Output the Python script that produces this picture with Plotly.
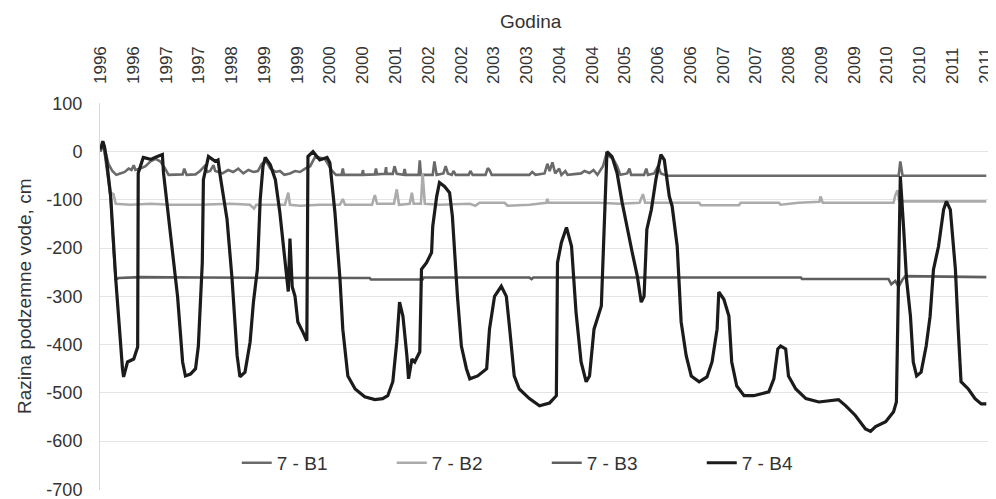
import plotly.graph_objects as go

# ---------------- data ----------------
tick_labels = ["1996", "1996", "1997", "1997", "1998", "1999", "1999", "2000", "2000",
               "2001", "2002", "2002", "2003", "2003", "2004", "2004", "2005", "2006",
               "2006", "2007", "2007", "2008", "2009", "2009", "2010", "2010", "2011", "2011"]
TICK_START = 1996.18
TICK_STEP = 0.583

y_ticks = [100, 0, -100, -200, -300, -400, -500, -600, -700]

series_names = ["7 - B1", "7 - B2", "7 - B3", "7 - B4"]

b1_year = [1996.18, 1996.20, 1996.23, 1996.27, 1996.32, 1996.39, 1996.46, 1996.53, 1996.61,
           1996.68, 1996.73, 1996.77, 1996.80, 1996.89, 1996.98, 1997.07, 1997.16, 1997.24,
           1997.33, 1997.39, 1997.56, 1997.64, 1997.67, 1997.71, 1997.87, 1997.95, 1998.03,
           1998.08, 1998.13, 1998.19, 1998.22, 1998.35, 1998.45, 1998.54, 1998.63, 1998.72,
           1998.81, 1998.90, 1998.98, 1999.05, 1999.13, 1999.20, 1999.30, 1999.37, 1999.45,
           1999.55, 1999.64, 1999.73, 1999.82, 1999.91, 2000.00, 2000.17, 2000.30, 2000.37,
           2000.47, 2000.49, 2000.51, 2000.83, 2000.85, 2000.86, 2001.06, 2001.08, 2001.10,
           2001.24, 2001.26, 2001.27, 2001.38, 2001.41, 2001.45, 2001.57, 2001.59, 2001.61,
           2001.84, 2001.86, 2001.88, 2002.09, 2002.12, 2002.16, 2002.28, 2002.32, 2002.36,
           2002.43, 2002.46, 2002.50, 2002.73, 2002.76, 2002.80, 2003.03, 2003.07, 2003.10,
           2003.14, 2003.81, 2003.86, 2003.92, 2004.08, 2004.13, 2004.17, 2004.22, 2004.27,
           2004.34, 2004.38, 2004.45, 2004.49, 2004.73, 2004.79, 2004.88, 2004.95, 2005.02,
           2005.12, 2005.18, 2005.23, 2005.30, 2005.37, 2005.43, 2005.55, 2005.59, 2005.62,
           2005.85, 2005.89, 2005.92, 2006.03, 2006.10, 2006.15, 2006.26, 2010.38, 2010.41,
           2010.45, 2011.94]
b1_val = [0, 10, 18, 0, -25, -40, -48, -45, -42,
          -35, -38, -28, -38, -35, -30, -20, -15, -20,
          -35, -48, -48, -47, -35, -48, -47, -40, -30,
          -42, -40, -28, -40, -45, -38, -42, -35, -45,
          -38, -42, -40, -25, -20, -35, -42, -40, -48,
          -45, -40, -42, -35, -30, -10, -15, -40, -48,
          -48, -35, -48, -48, -38, -48, -47, -35, -47,
          -46, -32, -46, -46, -30, -46, -48, -36, -48,
          -48, -18, -48, -48, -20, -48, -45, -30, -45,
          -48, -40, -48, -48, -40, -48, -48, -34, -38,
          -48, -48, -42, -48, -45, -25, -40, -22, -45,
          -35, -48, -40, -48, -45, -40, -44, -38, -48,
          -30, -5, -10, -15, -30, -48, -45, -35, -48,
          -48, -35, -48, -45, -30, -45, -50, -50, -20,
          -50, -50]

b2_year = [1996.18, 1996.20, 1996.23, 1996.29, 1996.36, 1996.41, 1996.45, 1996.71, 1997.07,
           1997.42, 1997.95, 1998.49, 1998.84, 1998.91, 1998.95, 1999.46, 1999.52, 1999.55,
           1999.73, 2000.08, 2000.44, 2000.49, 2000.53, 2001.01, 2001.06, 2001.10, 2001.40,
           2001.45, 2001.49, 2001.68, 2001.72, 2001.75, 2001.88, 2001.91, 2001.95, 2002.21,
           2002.75, 2002.85, 2002.92, 2003.37, 2003.42, 2003.81, 2004.11, 2004.13, 2004.15,
           2005.05, 2005.41, 2005.77, 2005.83, 2005.87, 2006.83, 2006.86, 2007.54, 2007.57,
           2008.25, 2008.28, 2008.60, 2008.97, 2008.99, 2009.03, 2010.29, 2010.32, 2010.36,
           2010.39, 2011.94]
b2_val = [0, 10, 18, -30, -85, -88, -108, -110, -108,
          -110, -110, -108, -110, -118, -110, -110, -85, -110,
          -112, -110, -110, -98, -110, -110, -90, -108, -108,
          -78, -110, -108, -85, -108, -108, -45, -108, -110,
          -108, -112, -106, -106, -112, -110, -106, -98, -106,
          -106, -108, -106, -88, -106, -106, -111, -111, -106,
          -106, -110, -106, -104, -93, -106, -106, -90, -80,
          -103, -103]

b3_year = [1996.18, 1996.20, 1996.23, 1996.29, 1996.36, 1996.41, 1996.45, 1996.50, 1996.89,
           1997.95, 1999.73, 2000.97, 2000.99, 2001.91, 2001.93, 2003.81, 2003.85, 2003.88,
           2006.83, 2008.64, 2008.66, 2010.20, 2010.25, 2010.32, 2010.38, 2010.45, 2010.50,
           2011.94]
b3_val = [0, 10, 18, -30, -95, -200, -265, -262, -260,
          -261, -262, -262, -265, -265, -261, -261, -264, -261,
          -261, -261, -264, -264, -275, -268, -280, -265, -258,
          -260]

b4_year = [1996.18, 1996.20, 1996.22, 1996.25, 1996.29, 1996.36, 1996.45, 1996.57, 1996.59,
           1996.66, 1996.77, 1996.84, 1996.85, 1996.94, 1997.07, 1997.19, 1997.28, 1997.30,
           1997.42, 1997.55, 1997.64, 1997.69, 1997.78, 1997.87, 1997.92, 1997.99, 1998.01,
           1998.10, 1998.22, 1998.27, 1998.31, 1998.43, 1998.52, 1998.61, 1998.66, 1998.75,
           1998.84, 1998.90, 1998.97, 1999.02, 1999.07, 1999.11, 1999.20, 1999.29, 1999.37,
           1999.46, 1999.52, 1999.55, 1999.59, 1999.64, 1999.69, 1999.78, 1999.85, 1999.87,
           1999.96, 2000.08, 2000.21, 2000.26, 2000.35, 2000.44, 2000.49, 2000.58, 2000.71,
           2000.88, 2001.06, 2001.20, 2001.29, 2001.38, 2001.45, 2001.50, 2001.56, 2001.63,
           2001.66, 2001.72, 2001.77, 2001.86, 2001.89, 2001.98, 2002.07, 2002.09, 2002.16,
           2002.21, 2002.30, 2002.39, 2002.44, 2002.53, 2002.60, 2002.69, 2002.75, 2002.89,
           2003.05, 2003.10, 2003.19, 2003.31, 2003.40, 2003.46, 2003.54, 2003.63, 2003.81,
           2003.99, 2004.17, 2004.29, 2004.31, 2004.38, 2004.47, 2004.56, 2004.64, 2004.73,
           2004.82, 2004.88, 2004.96, 2005.09, 2005.14, 2005.18, 2005.19, 2005.28, 2005.37,
           2005.46, 2005.55, 2005.64, 2005.73, 2005.80, 2005.85, 2005.90, 2005.98, 2006.06,
           2006.15, 2006.21, 2006.30, 2006.35, 2006.44, 2006.51, 2006.60, 2006.69, 2006.83,
           2006.97, 2007.06, 2007.15, 2007.18, 2007.27, 2007.36, 2007.41, 2007.50, 2007.63,
           2007.80, 2007.95, 2008.07, 2008.16, 2008.23, 2008.28, 2008.37, 2008.42, 2008.55,
           2008.73, 2008.96, 2009.31, 2009.44, 2009.61, 2009.79, 2009.88, 2009.97, 2010.15,
           2010.29, 2010.34, 2010.38, 2010.41, 2010.47, 2010.52, 2010.59, 2010.64, 2010.70,
           2010.78, 2010.87, 2010.94, 2011.00, 2011.09, 2011.18, 2011.23, 2011.30, 2011.39,
           2011.44, 2011.49, 2011.62, 2011.74, 2011.85, 2011.94]
b4_val = [5, 15, 22, 10, -20, -93, -264, -450, -467,
          -436, -430, -405, -44, -12, -16, -10, -6, -44,
          -161, -300, -436, -465, -461, -450, -403, -230, -58,
          -10, -20, -17, -51, -140, -264, -423, -467, -457,
          -395, -312, -244, -100, -30, -12, -27, -58, -126,
          -217, -290, -180, -280, -300, -353, -374, -392, -10,
          0, -17, -12, -23, -126, -264, -368, -465, -492,
          -508, -514, -512, -506, -477, -395, -312, -341, -423,
          -471, -430, -436, -415, -244, -230, -209, -155, -93,
          -64, -72, -85, -134, -300, -403, -450, -471, -465,
          -450, -368, -300, -279, -300, -368, -465, -492, -512,
          -527, -521, -506, -230, -188, -157, -196, -333, -436,
          -477, -465, -368, -320, -161, -23, 0, -10, -44,
          -105, -161, -209, -258, -312, -300, -161, -120, -58,
          -6, -17, -93, -113, -196, -353, -423, -465, -477,
          -467, -436, -368, -291, -306, -341, -436, -486, -506,
          -506, -502, -498, -471, -409, -403, -409, -465, -492,
          -512, -519, -514, -527, -547, -575, -580, -570, -560,
          -539, -519, -264, -51, -161, -264, -341, -436, -465,
          -457, -403, -341, -244, -196, -120, -103, -120, -244,
          -368, -477, -492, -512, -523, -523]

# ---------------- figure ----------------
FONT = "Liberation Sans Narrow, Arial Narrow, Liberation Sans, Arial, sans-serif"
TXT = "#333333"

colors = ["#6a6a6a", "#ababab", "#5e5e5e", "#1b1b1b"]
widths = [2.6, 2.6, 2.6, 3.2]
xs = [b1_year, b2_year, b3_year, b4_year]
ys = [b1_val, b2_val, b3_val, b4_val]

fig = go.Figure()
for name, x, y, c, w in zip(series_names, xs, ys, colors, widths):
    fig.add_trace(go.Scatter(x=x, y=y, mode="lines", name=name,
                             line=dict(color=c, width=w)))

tick_vals = [TICK_START + i * TICK_STEP for i in range(len(tick_labels))]

# the page body adds an 8px offset, so the figure is shifted accordingly
fig.update_layout(
    width=988, height=499,
    margin=dict(l=92, r=8, t=95, b=17, autoexpand=False),
    paper_bgcolor="white", plot_bgcolor="white",
    font=dict(family=FONT, size=18, color=TXT),
    showlegend=True,
    legend=dict(orientation="h", x=0.154, y=0.07, xanchor="left", yanchor="middle",
                entrywidth=110, entrywidthmode="pixels",
                font=dict(family=FONT, size=19, color=TXT),
                bgcolor="rgba(255,255,255,0.85)", itemclick=False),
    xaxis=dict(side="top", range=[1996.17, 2011.97], tickmode="array",
               tickvals=tick_vals, ticktext=tick_labels, tickangle=-90,
               showgrid=False, zeroline=False, showline=False, ticks="",
               ticklabelstandoff=18, automargin=False,
               tickfont=dict(family=FONT, size=17, color=TXT)),
    yaxis=dict(range=[-701.5, 101], tickmode="array", tickvals=y_ticks,
               ticktext=[str(v) for v in y_ticks],
               showgrid=True, gridcolor="#e4e4e4", gridwidth=1,
               zeroline=False, showline=True, linecolor="#d8d8d8", linewidth=1,
               mirror=True, ticks="", ticklabelstandoff=13, automargin=False,
               tickfont=dict(family=FONT, size=18, color=TXT)),
    annotations=[
        dict(text="Godina", xref="paper", yref="paper", x=0.485, y=1.21,
             xanchor="center", yanchor="middle", showarrow=False,
             font=dict(family=FONT, size=19, color=TXT)),
        dict(text="Razina podzemne vode, cm", xref="paper", yref="paper",
             x=-0.085, y=0.5, xanchor="center", yanchor="middle", textangle=-90,
             showarrow=False, font=dict(family=FONT, size=19, color=TXT)),
    ],
)

fig.write_html("out.html")
